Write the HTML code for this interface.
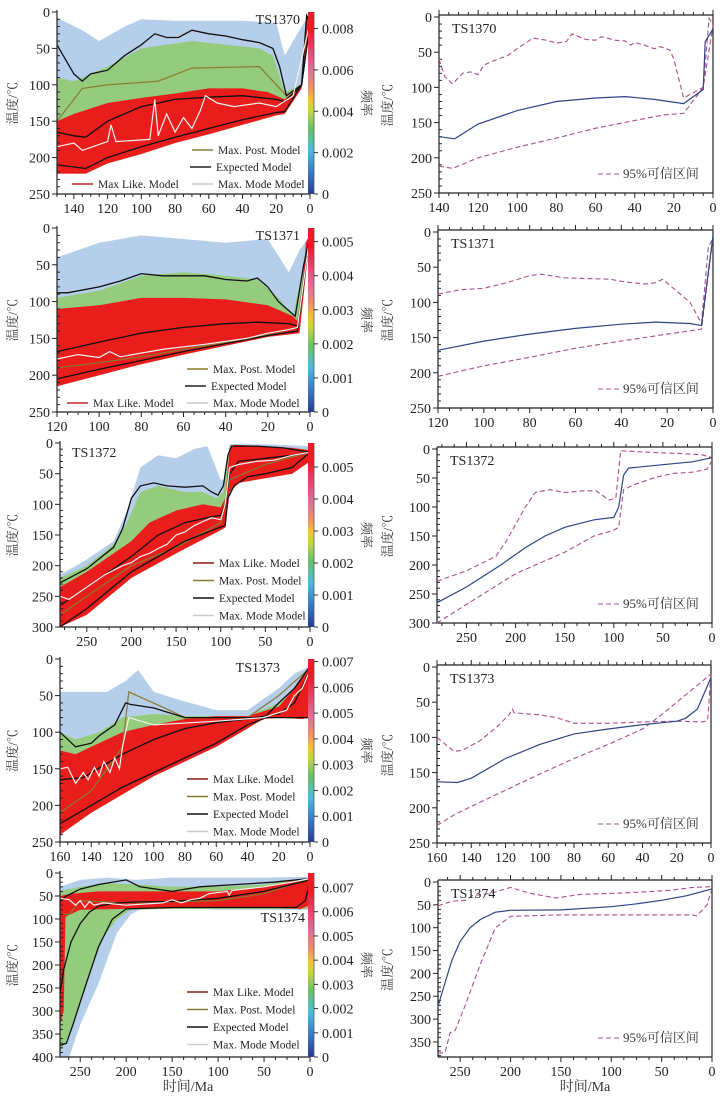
<!DOCTYPE html>
<html><head><meta charset="utf-8">
<style>
html,body{margin:0;padding:0;background:#fff;}
svg{display:block;}
text{font-family:"Liberation Serif","Noto Serif CJK SC",serif;}
</style></head>
<body>
<svg id="fig" width="725" height="1106" viewBox="0 0 725 1106" xmlns="http://www.w3.org/2000/svg">
<defs>
<linearGradient id="cbar" x1="0" y1="1" x2="0" y2="0">
<stop offset="0" stop-color="#2b3a8f"/>
<stop offset="0.12" stop-color="#3a78c8"/>
<stop offset="0.24" stop-color="#45c0d8"/>
<stop offset="0.36" stop-color="#6cc06a"/>
<stop offset="0.46" stop-color="#c8d840"/>
<stop offset="0.52" stop-color="#f0c040"/>
<stop offset="0.6" stop-color="#ee8a70"/>
<stop offset="0.7" stop-color="#e06a9a"/>
<stop offset="0.82" stop-color="#e83a60"/>
<stop offset="0.9" stop-color="#ee1c24"/>
<stop offset="1" stop-color="#ee1c24"/>
</linearGradient>
</defs>
</svg>
<script>
// ---------- Row 1 : TS1370 ----------
const r1Expected=[[150,165],[140,170],[133,172],[120,150],[100,130],[80,120],[60,117],[40,115],[20,120],[15,123],[5,100],[0,15]];
const r1Upper=[[150,45],[145,65],[140,85],[135,95],[130,85],[120,80],[110,60],[100,45],[92,30],[85,35],[78,35],[70,25],[60,30],[50,33],[40,38],[30,42],[22,50],[18,75],[14,115],[5,100],[2,5],[0,15]];
const r1Lower=[[150,210],[133,215],[120,200],[100,185],[80,172],[60,160],[40,148],[20,138],[15,137],[5,100],[0,15]];
const r1Post=[[150,150],[135,105],[120,100],[90,95],[70,77],[30,75],[20,100],[14,115],[5,100],[0,10]];
const r1Mode=[[150,185],[140,180],[135,190],[120,178],[118,155],[115,178],[95,175],[92,120],[90,170],[85,140],[80,165],[75,145],[70,160],[65,135],[62,115],[55,125],[45,130],[30,125],[20,130],[10,115],[0,15]];
const r1BlueTop=[[150,8],[135,25],[125,40],[110,20],[100,10],[80,12],[40,12],[20,15],[15,60],[10,40],[5,20],[0,2]];
const r1GreenTop=[[150,90],[140,95],[120,75],[100,50],[85,45],[70,40],[50,45],[30,50],[22,60],[15,110],[5,100],[0,10]];
const r1RedTop=[[150,150],[140,140],[120,125],[100,118],[80,112],[60,105],[40,105],[25,110],[15,120],[5,100],[2,5],[0,5]];
const r1Bottom=[[150,222],[133,222],[120,208],[100,195],[80,180],[60,168],[40,155],[20,142],[15,140],[5,105],[0,20]];
const r1CIUpper=[[140,60],[137,85],[133,95],[128,80],[124,78],[120,82],[117,68],[110,60],[105,55],[100,45],[92,30],[85,33],[80,37],[75,35],[72,24],[65,32],[60,33],[57,28],[50,33],[45,34],[42,40],[40,36],[35,40],[30,45],[27,42],[22,47],[20,60],[15,115],[5,100],[2,2],[0,10]];
const r1CILower=[[140,212],[133,215],[120,200],[100,185],[80,172],[60,158],[40,147],[25,139],[15,137],[5,100],[0,12]];
const r1ExpRight=[[140,170],[132,173],[120,152],[100,133],[80,120],[60,115],[45,113],[30,117],[15,123],[5,103],[4,35],[0,17]];
const r1CbTicks=[0,0.002,0.004,0.006,0.008];
// ---------- Row 2 : TS1371 ----------
const r2Expected=[[120,168],[100,155],[80,143],[60,135],[40,130],[25,128],[10,130],[6,133],[0,10]];
const r2Upper=[[120,88],[115,88],[100,80],[90,72],[80,62],[70,65],[50,65],[40,70],[30,72],[25,68],[20,80],[15,100],[7,120],[3,50],[0,12]];
const r2Lower=[[120,205],[100,192],[80,180],[60,168],[40,157],[20,146],[6,140],[0,10]];
const r2Post=[[120,190],[100,183],[80,175],[60,165],[40,155],[20,145],[6,140],[0,10]];
const r2Mode=[[120,178],[110,172],[100,176],[95,168],[90,175],[70,165],[50,158],[30,150],[20,143],[10,138],[6,135],[0,10]];
const r2BlueTop=[[120,40],[100,20],[80,10],[60,15],[40,20],[20,15],[10,60],[5,30],[0,10]];
const r2GreenTop=[[120,95],[100,85],[80,65],[60,60],[40,65],[25,70],[15,95],[8,120],[3,50],[0,10]];
const r2RedTop=[[120,110],[100,105],[80,95],[60,95],[40,97],[20,105],[8,120],[5,130],[2,20],[0,8]];
const r2Bottom=[[120,215],[100,200],[80,185],[60,172],[40,160],[20,148],[5,143],[0,10]];
const r2CIUpper=[[120,88],[115,85],[110,82],[100,80],[90,72],[80,62],[75,60],[65,65],[55,66],[45,67],[40,70],[30,74],[25,72],[22,67],[10,100],[7,118],[5,130],[2,20],[0,10]];
const r2CILower=[[120,205],[100,190],[80,178],[60,165],[40,155],[20,145],[5,138],[0,8]];
const r2ExpRight=[[120,168],[100,155],[80,145],[60,137],[40,131],[25,128],[10,130],[5,133],[0,5]];
const r2CbTicks=[0,0.001,0.002,0.003,0.004,0.005];
// ---------- Row 3 : TS1372 ----------
const r3Expected=[[280,265],[250,235],[200,185],[170,150],[140,130],[110,120],[100,118],[95,100],[90,50],[80,30],[50,25],[20,20],[0,15]];
const r3Upper=[[280,228],[250,205],[220,170],[210,140],[200,90],[190,70],[175,65],[160,70],[140,72],[120,70],[110,80],[103,85],[97,70],[92,20],[88,5],[60,5],[30,8],[0,15]];
const r3Lower=[[280,300],[250,270],[200,210],[170,185],[140,160],[100,137],[95,135],[92,90],[85,70],[70,55],[50,50],[20,40],[0,15]];
const r3Post=[[280,280],[250,250],[200,200],[150,170],[100,130],[90,60],[50,35],[0,15]];
const r3Mode=[[280,250],[270,255],[250,235],[230,215],[210,200],[200,195],[190,185],[180,180],[170,172],[160,165],[150,150],[140,145],[130,135],[120,128],[110,122],[100,125],[95,100],[90,40],[80,35],[60,30],[40,28],[20,20],[0,15]];
const r3BlueTop=[[280,215],[250,190],[220,160],[205,110],[190,40],[170,20],[150,25],[130,10],[115,5],[100,60],[95,60],[90,2],[50,2],[0,5]];
const r3GreenTop=[[280,220],[250,200],[220,165],[205,130],[190,80],[170,70],[140,80],[120,80],[105,90],[97,80],[92,20],[88,3],[0,10]];
const r3RedTop=[[280,235],[250,210],[220,180],[200,160],[180,130],[150,110],[120,100],[100,105],[95,90],[90,10],[85,3],[50,5],[20,8],[0,12]];
const r3Bottom=[[280,300],[250,280],[200,220],[150,180],[100,142],[95,138],[90,80],[80,65],[60,60],[40,55],[20,50],[0,30]];
const r3CIUpper=[[280,228],[250,210],[220,185],[210,160],[200,130],[190,100],[180,75],[165,70],[150,75],[130,72],[118,72],[105,88],[98,85],[93,3],[60,6],[30,8],[10,10],[0,15]];
const r3CILower=[[280,300],[250,268],[200,215],[150,178],[120,150],[100,140],[95,135],[90,70],[80,62],[60,50],[40,42],[20,40],[5,35],[0,20]];
const r3ExpRight=[[280,265],[250,238],[215,200],[190,170],[170,150],[150,135],[120,122],[100,118],[95,100],[90,45],[85,33],[50,27],[20,22],[0,15]];
const r3CbTicks=[0,0.001,0.002,0.003,0.004,0.005];
// ---------- Row 4 : TS1373 ----------
const r4Expected=[[160,165],[150,163],[145,162],[140,155],[120,130],[100,110],[80,95],[60,87],[40,82],[20,75],[10,60],[0,15]];
const r4Upper=[[160,100],[150,120],[140,115],[135,105],[125,90],[118,60],[115,62],[100,67],[80,80],[40,80],[10,80],[0,80]];
const r4Lower=[[160,225],[140,200],[120,175],[100,155],[80,135],[60,115],[40,90],[30,82],[20,60],[10,40],[0,10]];
const r4Post=[[160,210],[140,180],[120,120],[116,45],[90,70],[80,80],[40,80],[20,50],[0,12]];
const r4Mode=[[160,150],[155,148],[150,170],[145,155],[142,165],[138,148],[135,160],[132,140],[128,155],[125,135],[122,150],[120,120],[118,100],[116,80],[100,90],[60,85],[30,80],[15,70],[10,50],[5,40],[0,15]];
const r4BlueTop=[[160,45],[145,45],[130,45],[118,30],[110,15],[100,45],[85,55],[60,70],[40,70],[20,40],[10,20],[0,10]];
const r4GreenTop=[[160,100],[150,110],[135,100],[120,80],[100,75],[80,78],[40,78],[20,60],[10,40],[0,12]];
const r4RedTop=[[160,125],[150,130],[140,120],[120,100],[100,90],[80,82],[60,78],[40,78],[20,65],[10,40],[0,12]];
const r4Bottom=[[160,240],[140,210],[120,185],[100,160],[80,140],[60,120],[40,95],[30,82],[20,80],[5,82],[0,80]];
const r4CIUpper=[[160,100],[150,120],[145,118],[135,105],[125,85],[118,68],[116,60],[115,65],[100,68],[90,72],[80,80],[60,80],[40,78],[20,77],[5,78],[2,76],[0,10]];
const r4CILower=[[160,225],[150,210],[140,198],[120,175],[100,152],[80,130],[60,110],[40,88],[30,70],[20,50],[10,30],[0,10]];
const r4ExpRight=[[160,163],[148,164],[140,158],[120,130],[100,110],[80,95],[60,88],[40,82],[20,77],[15,73],[8,60],[0,15]];
const r4CbTicks=[0,0.001,0.002,0.003,0.004,0.005,0.006,0.007];
// ---------- Row 5 : TS1374 ----------
const r5Expected=[[272,260],[268,210],[260,150],[250,110],[240,85],[230,72],[210,65],[190,63],[150,62],[100,55],[50,40],[0,15]];
const r5Upper=[[272,60],[265,50],[250,35],[230,25],[200,15],[185,30],[150,40],[120,30],[80,25],[40,20],[0,12]];
const r5Lower=[[272,375],[265,370],[258,330],[245,250],[230,160],[215,100],[200,78],[150,75],[100,75],[50,75],[15,75],[5,60],[0,15]];
const r5Post=[[272,90],[262,90],[250,60],[200,65],[100,60],[50,45],[0,12]];
const r5Mode=[[272,55],[262,58],[255,70],[250,60],[245,75],[240,62],[235,70],[225,65],[200,70],[160,65],[150,58],[140,65],[130,58],[120,55],[110,45],[90,40],[88,48],[85,38],[50,30],[20,20],[0,12]];
const r5BlueTop=[[272,30],[250,15],[220,10],[190,15],[150,10],[100,10],[50,10],[0,8]];
const r5BlueBot=[[272,400],[262,400],[250,330],[230,240],[210,130],[195,90],[175,70],[150,75],[100,80],[50,80],[0,80]];
const r5GreenTop=[[272,40],[250,30],[220,22],[190,25],[150,30],[100,30],[50,25],[0,10]];
const r5GreenBot=[[272,390],[262,350],[245,250],[225,140],[210,100],[195,80],[150,78],[50,78],[0,78]];
const r5RedTop=[[272,50],[260,45],[230,40],[200,40],[150,40],[100,40],[50,30],[20,18],[0,12]];
const r5RedBot=[[272,330],[268,300],[266,95],[250,80],[200,78],[100,75],[50,75],[10,78],[0,70]];
const r5CIUpper=[[272,52],[265,47],[258,42],[245,40],[238,30],[220,25],[200,12],[180,25],[155,35],[130,27],[100,25],[70,22],[40,18],[20,12],[0,10]];
const r5CILower=[[272,375],[265,373],[260,330],[255,325],[245,270],[230,180],[215,100],[200,75],[150,72],[100,72],[60,72],[20,72],[15,74],[5,50],[0,15]];
const r5ExpRight=[[272,272],[265,220],[258,170],[250,130],[240,100],[230,82],[215,66],[200,62],[150,61],[100,54],[75,48],[50,40],[25,30],[0,15]];
const r5CbTicks=[0,0.001,0.002,0.003,0.004,0.005,0.006,0.007];

const SVGNS="http://www.w3.org/2000/svg";
const svg=document.getElementById('fig');
function mk(tag,attrs,parent){const e=document.createElementNS(SVGNS,tag);for(const k in attrs)e.setAttribute(k,attrs[k]);(parent||svg).appendChild(e);return e;}
function scaleX(p,t){return p.x1-(t/p.tmax)*(p.x1-p.x0);}
function scaleY(p,T){return p.y0+(Math.min(T,p.Tmax)/p.Tmax)*(p.y1-p.y0);}
function pathOf(p,arr){return arr.map((d,i)=>(i?'L':'M')+scaleX(p,d[0]).toFixed(1)+','+scaleY(p,d[1]).toFixed(1)).join(' ');}
function bandOf(p,top,bot){return pathOf(p,top)+' '+bot.slice().reverse().map(d=>'L'+scaleX(p,d[0]).toFixed(1)+','+scaleY(p,d[1]).toFixed(1)).join(' ')+' Z';}

const rows=[
 {id:'ts1370',name:'TS1370',L:{x0:57,x1:310,tmax:150,y0:12,y1:194,Tmax:250},R:{x0:439,x1:713,tmax:140,y0:17,y1:193,Tmax:250},
  xt:[140,120,100,80,60,40,20,0],xtR:[140,120,100,80,60,40,20,0],yt:[0,50,100,150,200,250],ytR:[0,50,100,150,200,250],cbMax:0.0088,cb:r1CbTicks,
  exp:r1Expected,up:r1Upper,lo:r1Lower,post:r1Post,mode:r1Mode,blueTop:r1BlueTop,blueBot:r1Bottom,greenTop:r1GreenTop,greenBot:r1Bottom,redTop:r1RedTop,redBot:r1Bottom,
  ciU:r1CIUpper,ciL:r1CILower,expR:r1ExpRight,tsL:{x:300,y:24,a:'end'},legend:'three',leg:[218,154]},
 {id:'ts1371',name:'TS1371',L:{x0:57,x1:310,tmax:120,y0:228,y1:412,Tmax:250},R:{x0:438,x1:713,tmax:120,y0:232,y1:408,Tmax:250},
  xt:[120,100,80,60,40,20,0],xtR:[120,100,80,60,40,20,0],yt:[0,50,100,150,200,250],ytR:[0,50,100,150,200,250],cbMax:0.0054,cb:r2CbTicks,
  exp:r2Expected,up:r2Upper,lo:r2Lower,post:r2Post,mode:r2Mode,blueTop:r2BlueTop,blueBot:r2Bottom,greenTop:r2GreenTop,greenBot:r2Bottom,redTop:r2RedTop,redBot:r2Bottom,
  ciU:r2CIUpper,ciL:r2CILower,expR:r2ExpRight,tsL:{x:300,y:240,a:'end'},legend:'three',leg:[213,373]},
 {id:'ts1372',name:'TS1372',L:{x0:60,x1:310,tmax:280,y0:443,y1:627,Tmax:300},R:{x0:437,x1:712,tmax:280,y0:449,y1:623,Tmax:300},
  xt:[250,200,150,100,50,0],xtR:[250,200,150,100,50,0],yt:[0,50,100,150,200,250,300],ytR:[0,50,100,150,200,250,300],cbMax:0.00575,cb:r3CbTicks,
  exp:r3Expected,up:r3Upper,lo:r3Lower,post:r3Post,mode:r3Mode,blueTop:r3BlueTop,blueBot:r3Bottom,greenTop:r3GreenTop,greenBot:r3Bottom,redTop:r3RedTop,redBot:r3Bottom,
  ciU:r3CIUpper,ciL:r3CILower,expR:r3ExpRight,tsL:{x:72,y:457,a:'start'},legend:'four',leg:[219,567]},
 {id:'ts1373',name:'TS1373',L:{x0:60,x1:310,tmax:160,y0:659,y1:842,Tmax:250},R:{x0:437,x1:711,tmax:160,y0:667,y1:843,Tmax:250},
  xt:[160,140,120,100,80,60,40,20,0],xtR:[160,140,120,100,80,60,40,20,0],yt:[0,50,100,150,200,250],ytR:[0,50,100,150,200,250],cbMax:0.0071,cb:r4CbTicks,
  exp:r4Expected,up:r4Upper,lo:r4Lower,post:r4Post,mode:r4Mode,blueTop:r4BlueTop,blueBot:r4Bottom,greenTop:r4GreenTop,greenBot:r4Bottom,redTop:r4RedTop,redBot:r4Bottom,
  ciU:r4CIUpper,ciL:r4CILower,expR:r4ExpRight,tsL:{x:280,y:672,a:'end'},legend:'four',leg:[213,783]},
 {id:'ts1374',name:'TS1374',L:{x0:60,x1:310,tmax:272,y0:873,y1:1057,Tmax:400},R:{x0:438,x1:712,tmax:272,y0:882,y1:1057,Tmax:383},
  xt:[250,200,150,100,50,0],xtR:[250,200,150,100,50,0],yt:[0,50,100,150,200,250,300,350,400],ytR:[0,50,100,150,200,250,300,350],cbMax:0.0076,cb:r5CbTicks,
  exp:r5Expected,up:r5Upper,lo:r5Lower,post:r5Post,mode:r5Mode,blueTop:r5BlueTop,blueBot:r5BlueBot,greenTop:r5GreenTop,greenBot:r5GreenBot,redTop:r5RedTop,redBot:r5RedBot,
  ciU:r5CIUpper,ciL:r5CILower,expR:r5ExpRight,tsL:{x:305,y:922,a:'end'},legend:'four',leg:[213,996]}
];

function axes(g,p,xt,yt,frame,prefix){
  const ax=mk('g',{},g);
  
  
  mk('line',{x1:p.x0,y1:p.y1,x2:p.x1,y2:p.y1,stroke:'#222','stroke-width':1.2},ax);
  mk('line',{x1:p.x0,y1:p.y0-2,x2:p.x0,y2:p.y1,stroke:'#222','stroke-width':1.2},ax);
  if(frame){
    mk('line',{x1:p.x0,y1:p.y0-2,x2:p.x1,y2:p.y0-2,stroke:'#222','stroke-width':1.2},ax);
    mk('line',{x1:p.x1,y1:p.y0-2,x2:p.x1,y2:p.y1,stroke:'#222','stroke-width':1.2},ax);
  }
  const step=xt.length>1?Math.abs(xt[0]-xt[1]):20;
  for(let t=0;t<=p.tmax;t+=step/4){
    const x=scaleX(p,t),major=Math.abs(t/step-Math.round(t/step))<1e-6;
    mk('line',{x1:x,y1:p.y1,x2:x,y2:p.y1+(major?5:3),stroke:'#222','stroke-width':1},ax);
    if(frame)mk('line',{x1:x,y1:p.y0-2,x2:x,y2:p.y0-(major?7:5),stroke:'#222','stroke-width':1},ax);
  }
  xt.forEach(t=>{const tx=mk('text',{x:scaleX(p,t),y:p.y1+19,'font-size':14,'text-anchor':'middle',fill:'#222'},ax);tx.textContent=t;
    });
  const ys=50;
  for(let T=0;T<=p.Tmax;T+=ys/5){
    const y=scaleY(p,T),major=T%ys===0;
    mk('line',{x1:p.x0,y1:y,x2:p.x0+(major?-5:3),y2:y,stroke:'#222','stroke-width':1},ax);
  }
  yt.forEach(T=>{const tx=mk('text',{x:p.x0-7,y:scaleY(p,T)+5,'font-size':14,'text-anchor':'end',fill:'#222'},ax);tx.textContent=T;
    });
  const yl=mk('text',{x:0,y:0,'font-size':13,'text-anchor':'middle',fill:'#333',transform:`translate(${prefix.startsWith('r')&&frame?392:17},${(p.y0+p.y1)/2}) rotate(-90)`},ax);
  yl.textContent='温度/℃';
  
  
}

rows.forEach((r,ri)=>{
  const g=mk('g',{});
  
  
  const p=r.L;
  const lg=mk('g',{},g);
  
  
  const blue=mk('path',{d:bandOf(p,r.blueTop,r.blueBot),fill:'#5a92d0','fill-opacity':0.45},lg);
  
  
  const green=mk('path',{d:bandOf(p,r.greenTop,r.greenBot),fill:'#8fca6a','fill-opacity':0.85},lg);
  
  
  const red=mk('path',{d:bandOf(p,r.redTop,r.redBot),fill:'#ea1d1d'},lg);
  
  
  const lines=[[r.post,'#8a7a30',1.2,'max-post-model-line'],[r.up,'#111',1.3,'expected-upper-line'],[r.lo,'#111',1.3,'expected-lower-line'],[r.exp,'#111',1.3,'expected-model-line'],[r.mode,'#f4f0f0',1.2,'max-mode-model-line']];
  lines.forEach(l=>{const e=mk('path',{d:pathOf(p,l[0]),fill:'none',stroke:l[1],'stroke-width':l[2]},lg);
    });
  axes(g,p,r.xt,r.yt,false,'l'+ri);
  const cb=mk('rect',{x:308,y:p.y0,width:6,height:p.y1-p.y0,fill:'url(#cbar)'},g);
  
  
  mk('line',{x1:314,y1:p.y0,x2:314,y2:p.y1,stroke:'#555','stroke-width':0.8},g);
  r.cb.forEach(v=>{const y=p.y1-(v/r.cbMax)*(p.y1-p.y0);
    mk('line',{x1:314,y1:y,x2:318,y2:y,stroke:'#333','stroke-width':1},g);
    const t=mk('text',{x:322,y:y+5,'font-size':14,fill:'#222'},g);t.textContent=String(v);
    });
  const fl=mk('text',{x:0,y:0,'font-size':13,'text-anchor':'middle',fill:'#333',transform:`translate(362,${(p.y0+p.y1)/2}) rotate(90)`},g);
  fl.textContent='频率';
  
  
  const ts=mk('text',{x:r.tsL.x,y:r.tsL.y,'font-size':14,'text-anchor':r.tsL.a,fill:'#222'},g);
  ts.textContent=r.name;
  
  
  const leg=mk('g',{},g);
  
  
  let items;
  const [lx,ly]=r.leg;
  if(r.legend==='three'){
    items=[[lx,ly,'Max. Post. Model','#8a7a30'],[lx-2,ly+17,'Expected Model','#222'],[lx-120,ly+34,'Max Like. Model','#c0282a'],[lx,ly+34,'Max. Mode Model','#ccc']];
  } else {
    const names=['Max Like. Model','Max. Post. Model','Expected Model','Max. Mode Model'];
    const cols=['#8a1a1a','#8a7a30','#111','#ccc'];
    items=names.map((n,i)=>[lx,ly+i*17.5,n,cols[i]]);
  }
  items.forEach(it=>{
    const e=mk('g',{},leg);
    
    
    mk('line',{x1:it[0]-26,y1:it[1]-4,x2:it[0]-5,y2:it[1]-4,stroke:it[3],'stroke-width':1.5},e);
    const t=mk('text',{x:it[0],y:it[1],'font-size':11.5,fill:'#222'},e);t.textContent=it[2];
  });
  const q=r.R;
  const rg=mk('g',{},g);
  
  
  axes(rg,q,r.xtR,r.ytR,true,'r'+ri);
  const cu=mk('path',{d:pathOf(q,r.ciU),fill:'none',stroke:'#a8508e','stroke-width':1.1,'stroke-dasharray':'5,3'},rg);
  
  
  const cl=mk('path',{d:pathOf(q,r.ciL),fill:'none',stroke:'#a8508e','stroke-width':1.1,'stroke-dasharray':'5,3'},rg);
  
  
  const ex=mk('path',{d:pathOf(q,r.expR),fill:'none',stroke:'#2c4585','stroke-width':1.2},rg);
  
  
  const tr=mk('text',{x:q.x0+13,y:q.y0+16,'font-size':14,fill:'#222'},rg);
  tr.textContent=r.name;
  
  
  const rl=mk('g',{},rg);
  
  
  const lyy=q.y1-15;
  mk('line',{x1:598,y1:lyy-4,x2:620,y2:lyy-4,stroke:'#a8508e','stroke-width':1.1,'stroke-dasharray':'5,3'},rl);
  const lt=mk('text',{x:623,y:lyy,'font-size':13,fill:'#333'},rl);lt.textContent='95%可信区间';
});
[188,585].forEach(x=>{
  const t=mk('text',{x:x,y:1091,'font-size':14,'text-anchor':'middle',fill:'#333'});
  t.textContent='时间/Ma';
  
  
});
</script>
</body></html>
